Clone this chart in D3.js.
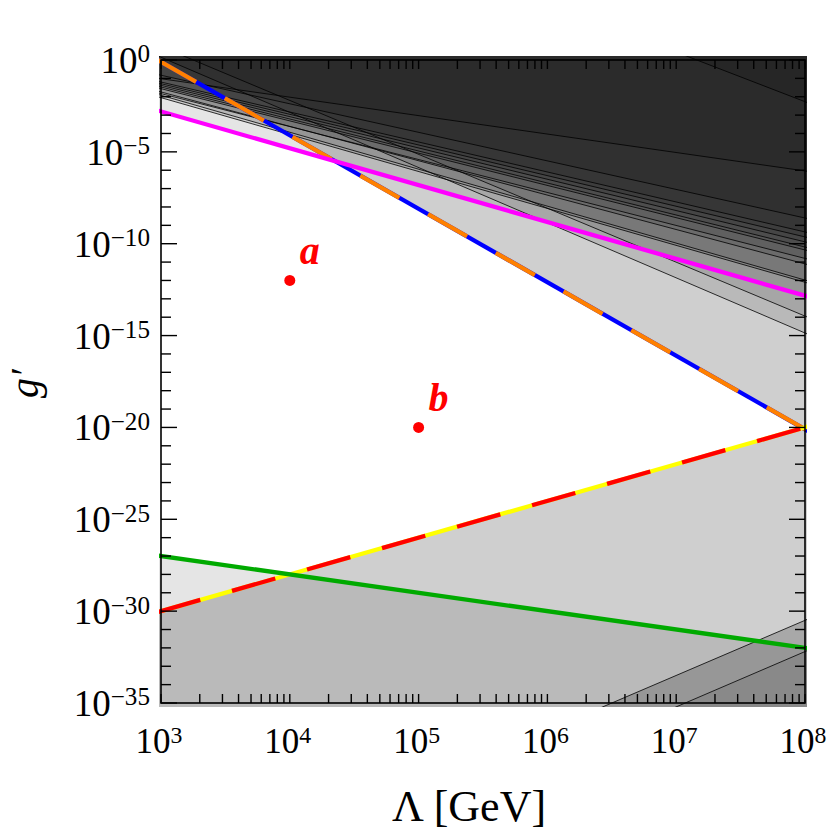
<!DOCTYPE html>
<meta charset="utf-8">
<style>
  body { margin: 0; background: #fff; }
  text { font-family: "Liberation Serif", "DejaVu Serif", serif; }
</style>
<body>
<script src="https://cdnjs.cloudflare.com/ajax/libs/d3/7.8.5/d3.min.js"></script>
<script>
// all limits in log10 units: [log Lambda start, log g' start, log Lambda end, log g' end]
var fanLines = [
  [7.16, 0.0, 8, -2.27],
  [3, -1.02, 8, -6.04],
  [3, -0.83, 8, -8.6],
  [3, -1.2, 8, -9.36],
  [3, -1.29, 8, -9.63],
  [3, -1.38, 8, -9.9],
  [3, -1.47, 8, -10.18],
  [3, -1.56, 8, -10.34],
  [3, -1.74, 8, -11.1],
  [3, -1.83, 8, -10.8],
  [3, -1.92, 8, -11.98],
  [3, -2.05, 8, -12.1],
  [3.05, 0.0, 8, -14.86],
  [3.25, 0.0, 8, -13.94]
];
var lowerLines = [
  [6.5, -35, 8, -30.5],
  [7.07, -35, 8, -32.2]
];
var magentaLimit = [3, -2.8, 8, -12.83];
var blueLimit = [3, -0.1, 8, -20.1];
var redLimit = [3, -30, 8, -20];
var greenLimit = [3, -27, 8, -32];

var benchmarks = [
  {name: "a", L: 1e4, g: 1e-12},
  {name: "b", L: 1e5, g: 1e-20}
];

var xTickExp = [3, 4, 5, 6, 7, 8];
var yTickExp = [0, -5, -10, -15, -20, -25, -30, -35];

var margin = {top: 60, right: 25, bottom: 137, left: 161},
    width = 830 - margin.left - margin.right,
    height = 840 - margin.top - margin.bottom;

var x = d3.scaleLog().domain([1e3, 1e8]).range([0, width]);
var y = d3.scaleLog().domain([1e-35, 1]).range([height, 0]);

var svg = d3.select("body").append("svg")
    .attr("width", 830)
    .attr("height", 840)
  .append("g")
    .attr("transform", "translate(" + margin.left + "," + margin.top + ")");

// plot range padding, like the original
svg.append("clipPath").attr("id", "clip")
  .append("rect")
    .attr("x", -2).attr("y", -4)
    .attr("width", width + 4).attr("height", height + 8);

var lxMin = Math.log10(x.invert(-4)),
    lxMax = Math.log10(x.invert(width + 4));

function at(seg, lx) {
  return seg[1] + (seg[3] - seg[1]) * (lx - seg[0]) / (seg[2] - seg[0]);
}
function px(p) { return [x(Math.pow(10, p[0])), y(Math.pow(10, p[1]))]; }

function region(seg, side) {
  var edge = side == "above" ? 10 : -50;
  return [[lxMin, at(seg, lxMin)], [lxMax, at(seg, lxMax)], [lxMax, edge], [lxMin, edge]].map(px);
}
function linePts(seg) {
  return [[lxMin, at(seg, lxMin)], [lxMax, at(seg, lxMax)]].map(px);
}

var line = d3.line();
var plot = svg.append("g").attr("clip-path", "url(#clip)");

// shaded regions
var shades = [
  {seg: magentaLimit, side: "above", op: 0.1},
  {seg: blueLimit, side: "above", op: 0.19},
  {seg: greenLimit, side: "below", op: 0.1},
  {seg: redLimit, side: "below", op: 0.19},
  {seg: lowerLines[0], side: "below", op: 0.19},
  {seg: lowerLines[1], side: "below", op: 0.09}
];
fanLines.forEach(function(s) { shades.push({seg: s, side: "above", op: 0.1}); });

plot.selectAll("path.shade")
    .data(shades)
  .enter().append("path")
    .attr("class", "shade")
    .attr("d", function(d) { return line(region(d.seg, d.side)) + "Z"; })
    .style("fill", "#000")
    .style("fill-opacity", function(d) { return d.op; });

// thin boundaries
plot.selectAll("path.thin")
    .data(fanLines.concat(lowerLines))
  .enter().append("path")
    .attr("class", "thin")
    .attr("d", function(d) { return line(linePts(d)); })
    .style("fill", "none")
    .style("stroke", "#000")
    .style("stroke-width", 0.8);

function drawLimit(seg, color, dashColor) {
  plot.append("path")
      .attr("d", line(linePts(seg)))
      .style("fill", "none")
      .style("stroke", color)
      .style("stroke-width", 4.3);
  if (dashColor) {
    plot.append("path")
        .attr("d", line(linePts(seg)))
        .style("fill", "none")
        .style("stroke", dashColor)
        .style("stroke-width", 4.3)
        .style("stroke-dasharray", "45,33");
  }
}
drawLimit(blueLimit, "#0000ff", "#ff8000");
drawLimit(redLimit, "#ffff00", "#ff0000");
drawLimit(magentaLimit, "#ff00ff");
drawLimit(greenLimit, "#00aa00");

// frame
svg.append("rect")
    .attr("width", width).attr("height", height)
    .style("fill", "none")
    .style("stroke", "#000")
    .style("stroke-width", 1.6);

// ticks (all inward)
var xMinor = [];
xTickExp.slice(0, -1).forEach(function(e) {
  for (var k = 2; k <= 9; k++) xMinor.push(k * Math.pow(10, e));
});
var yAll = d3.range(-35, 1);

var ticks = svg.append("g").style("stroke", "#000").style("stroke-width", 1.4);
xMinor.concat(xTickExp.map(function(e) { return Math.pow(10, e); })).forEach(function(v) {
  var xx = x(v);
  ticks.append("line").attr("x1", xx).attr("x2", xx).attr("y1", height).attr("y2", height - 9);
  ticks.append("line").attr("x1", xx).attr("x2", xx).attr("y1", 0).attr("y2", 9);
});
yAll.forEach(function(e) {
  var yy = y(Math.pow(10, e)), len = e % 5 == 0 ? 16 : 10;
  ticks.append("line").attr("x1", 0).attr("x2", len).attr("y1", yy).attr("y2", yy);
  ticks.append("line").attr("x1", width).attr("x2", width - len).attr("y1", yy).attr("y2", yy);
});

// tick labels
function powLabel(sel, e) {
  sel.append("tspan").text("10");
  sel.append("tspan")
      .attr("dy", "-0.42em")
      .style("font-size", "0.68em")
      .text(String(e).replace("-", "\u2212"));
}
xTickExp.forEach(function(e) {
  svg.append("text")
      .attr("x", x(Math.pow(10, e)) - 2)
      .attr("y", height + 50)
      .attr("text-anchor", "middle")
      .style("font-size", "35px")
      .call(powLabel, e);
});
yTickExp.forEach(function(e) {
  svg.append("text")
      .attr("x", -11)
      .attr("y", y(Math.pow(10, e)) + 13)
      .attr("text-anchor", "end")
      .style("font-size", "37px")
      .call(powLabel, e);
});

// axis titles
svg.append("text")
    .attr("x", width / 2 - 14)
    .attr("y", height + 118)
    .attr("text-anchor", "middle")
    .style("font-size", "44px")
    .text("\u039B [GeV]");
svg.append("text")
    .attr("transform", "translate(" + (-123) + "," + (height / 2 + 2) + ") rotate(-90)")
    .attr("text-anchor", "middle")
    .style("font-size", "40px")
    .style("font-style", "italic")
    .text("g\u2032");

// benchmark points
svg.selectAll("circle.pt")
    .data(benchmarks)
  .enter().append("circle")
    .attr("class", "pt")
    .attr("cx", function(d) { return x(d.L); })
    .attr("cy", function(d) { return y(d.g); })
    .attr("r", 5.5)
    .style("fill", "#ff0000");
svg.selectAll("text.pt")
    .data(benchmarks)
  .enter().append("text")
    .attr("class", "pt")
    .attr("x", function(d) { return x(d.L) + 10; })
    .attr("y", function(d) { return y(d.g) - 16; })
    .style("font-size", "40px")
    .style("font-weight", "bold")
    .style("font-style", "italic")
    .style("fill", "#ff0000")
    .text(function(d) { return d.name; });
</script>
</body>
